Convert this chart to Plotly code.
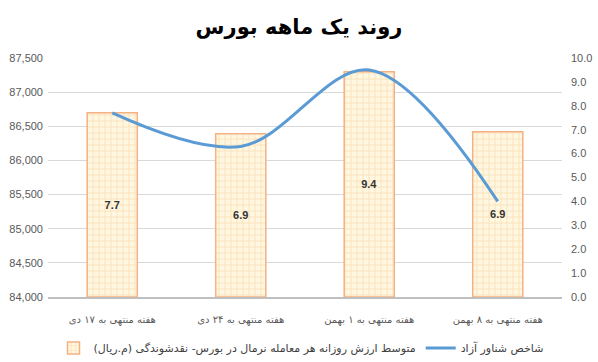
import plotly.graph_objects as go

categories = ["هفته منتهی به ۱۷ دی", "هفته منتهی به ۲۴ دی", "هفته منتهی به ۱ بهمن", "هفته منتهی به ۸ بهمن"]
bar_values = [86700, 86390, 87300, 86420]
bar_labels = ["7.7", "6.9", "9.4", "6.9"]
line_values = [7.7, 6.3, 9.5, 4.0]
bar_name = "متوسط ارزش روزانه هر معامله نرمال در بورس- نقدشوندگی (م.ریال)"
line_name = "شاخص شناور آزاد"
title_text = "روند یک ماهه بورس"
left_range = [84000, 87500]
right_range = [0, 10]

base_val = left_range[0]
fig = go.Figure()
fig.add_trace(go.Bar(
    x=categories,
    y=[v - base_val for v in bar_values],
    base=base_val,
    name=bar_name,
    text=bar_labels,
    textposition="inside",
    insidetextanchor="middle",
    textfont=dict(family="Liberation Sans, sans-serif", size=11, color="#333333", weight="bold"),
    marker=dict(
        color="#FFF3D6",
        line=dict(color="#F4B183", width=1.5),
        pattern=dict(shape="+", fgcolor="#F5BC7A", bgcolor="#FFF7E0", size=6, solidity=0.2),
    ),
    width=0.39,
    yaxis="y",
))
fig.add_trace(go.Scatter(
    x=categories,
    y=line_values,
    name=line_name,
    mode="lines",
    line=dict(color="#5B9BD5", width=3, shape="spline", smoothing=1.0),
    yaxis="y2",
))

fig.update_layout(
    width=598, height=362,
    paper_bgcolor="white", plot_bgcolor="white",
    margin=dict(l=48, r=36, t=58, b=65, autoexpand=False),
    title=dict(text=title_text, x=299 / 598, xref="container", xanchor="center",
               y=1 - 27 / 362, yref="container", yanchor="middle",
               font=dict(family="DejaVu Sans, sans-serif", size=21, color="black", weight="bold")),
    xaxis=dict(showgrid=False, showline=True, linecolor="#BFBFBF", linewidth=2,
               tickfont=dict(family="DejaVu Sans, sans-serif", size=10, color="#595959"),
               ticks="", ticklabelstandoff=12, automargin=False),
    yaxis=dict(range=left_range, dtick=500, tickformat=",", showgrid=True, gridcolor="#D9D9D9",
               gridwidth=1, zeroline=False, showline=False, automargin=False,
               ticklabelstandoff=4,
               tickfont=dict(family="Liberation Sans, sans-serif", size=11, color="#595959")),
    yaxis2=dict(range=right_range, dtick=1, tickformat=".1f", overlaying="y", side="right",
                showgrid=False, zeroline=False, showline=False, automargin=False,
                ticklabelstandoff=8,
                tickfont=dict(family="Liberation Sans, sans-serif", size=11, color="#595959")),
    legend=dict(orientation="h", x=301 / 598, xref="container", xanchor="center",
                y=14 / 362, yref="container", yanchor="middle", itemwidth=30,
                font=dict(family="DejaVu Sans, sans-serif", size=11, color="#404040")),
    showlegend=True,
)

fig.write_html("out.html", config={"displayModeBar": False},
               post_script="document.body.style.margin='0px';")
